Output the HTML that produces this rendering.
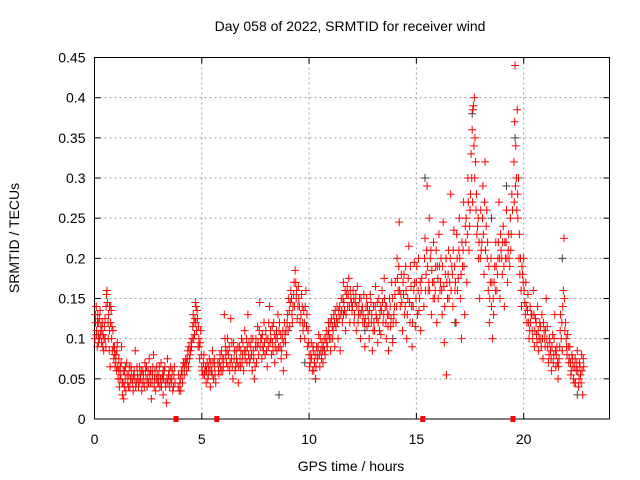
<!DOCTYPE html>
<html><head><meta charset="utf-8"><style>
body{margin:0;background:#fff;}
svg{display:block;font-family:"Liberation Sans",sans-serif;}
</style></head><body>
<svg id="chart" width="640" height="480">
<rect width="640" height="480" fill="#fff"/>
<text x="350" y="31" font-size="14" text-anchor="middle">Day 058 of 2022, SRMTID for receiver wind</text>
<text x="351" y="471" font-size="14" text-anchor="middle">GPS time / hours</text>
<text transform="translate(19,238) rotate(-90)" font-size="14" text-anchor="middle">SRMTID / TECUs</text>
<g id="grid"></g><g id="axes"></g><g id="marks"></g>
</svg>
<script>
const xTicks=[0,5,10,15,20];
const yTicks=[0,0.05,0.1,0.15,0.2,0.25,0.3,0.35,0.4,0.45];
const yLabels=["0","0.05","0.1","0.15","0.2","0.25","0.3","0.35","0.4","0.45"];
const gapTimes=[3.8,5.7,15.3,19.5];
const grayPts=[[0.7,0.14],[3.2,0.06],[9.8,0.07],[10.3,0.05],[11.6,0.13],[15.4,0.3],[16.8,0.12],[17.6,0.38],[18.5,0.25],[19.6,0.35],[19.2,0.29],[21.8,0.2],[22.5,0.03],[12.6,0.11],[8.6,0.03],[13.9,0.1]];
const redPts=[
[0.02,0.1],[0.05,0.12],[0.08,0.14],[0.1,0.11],[0.13,0.09],[0.15,0.13],[0.18,0.105],[0.2,0.12],[0.23,0.1],[0.26,0.135],[0.3,0.115],[0.33,0.095],[0.36,0.12],[0.4,0.105],[0.43,0.085],[0.46,0.115],[0.5,0.1],[0.53,0.09],[0.56,0.155],[0.58,0.16],[0.6,0.145],[0.63,0.12],[0.66,0.13],[0.7,0.11],[0.73,0.065],[0.76,0.14],[0.78,0.135],[0.8,0.1],[0.83,0.085],[0.86,0.11],[0.9,0.075],[0.93,0.09],[0.96,0.065],[1.0,0.08],[1.03,0.06],[1.06,0.095],[1.1,0.05],[1.13,0.075],[1.16,0.04],[1.2,0.065],[1.23,0.055],[1.26,0.09],[1.3,0.03],[1.33,0.045],[1.36,0.025],[1.4,0.06],[1.43,0.05],[1.46,0.035],[1.5,0.07],[1.55,0.045],[1.6,0.055],[1.65,0.04],[1.7,0.065],[1.75,0.05],[1.8,0.035],[1.85,0.06],[1.9,0.085],[1.95,0.045],[2.0,0.055],[2.05,0.04],[2.1,0.065],[2.15,0.05],[2.2,0.035],[2.25,0.06],[2.3,0.045],[2.35,0.07],[2.4,0.05],[2.45,0.04],[2.5,0.06],[2.55,0.075],[2.6,0.045],[2.65,0.025],[2.7,0.055],[2.75,0.08],[2.8,0.05],[2.85,0.035],[2.9,0.065],[2.95,0.045],[3.0,0.055],[3.05,0.04],[3.1,0.07],[3.15,0.05],[3.2,0.03],[3.25,0.06],[3.3,0.045],[3.35,0.02],[3.4,0.075],[3.45,0.055],[3.5,0.04],[3.55,0.065],[3.6,0.05],[3.65,0.035],[3.7,0.055],[3.75,0.045],[3.9,0.04],[3.95,0.035],[4.0,0.05],[4.05,0.06],[4.1,0.045],[4.15,0.07],[4.2,0.065],[4.25,0.075],[4.3,0.06],[4.35,0.085],[4.4,0.09],[4.45,0.08],[4.5,0.095],[4.55,0.1],[4.6,0.13],[4.63,0.12],[4.66,0.105],[4.7,0.145],[4.73,0.14],[4.76,0.11],[4.8,0.125],[4.83,0.09],[4.86,0.1],[4.9,0.075],[4.95,0.11],[5.0,0.065],[5.05,0.055],[5.1,0.08],[5.15,0.06],[5.2,0.045],[5.25,0.07],[5.3,0.055],[5.35,0.075],[5.4,0.04],[5.45,0.06],[5.5,0.085],[5.55,0.05],[5.6,0.065],[5.65,0.045],[5.75,0.07],[5.8,0.055],[5.85,0.08],[5.9,0.06],[5.95,0.075],[6.0,0.065],[6.05,0.13],[6.1,0.09],[6.15,0.07],[6.2,0.1],[6.25,0.08],[6.3,0.06],[6.35,0.125],[6.4,0.095],[6.45,0.05],[6.5,0.075],[6.55,0.06],[6.6,0.085],[6.65,0.07],[6.7,0.045],[6.75,0.09],[6.8,0.065],[6.85,0.1],[6.9,0.08],[6.95,0.06],[7.0,0.11],[7.05,0.085],[7.1,0.07],[7.15,0.13],[7.2,0.095],[7.25,0.075],[7.3,0.1],[7.35,0.06],[7.4,0.085],[7.45,0.05],[7.5,0.09],[7.55,0.07],[7.6,0.115],[7.65,0.08],[7.7,0.145],[7.75,0.1],[7.8,0.075],[7.85,0.09],[7.9,0.12],[7.95,0.08],[8.0,0.1],[8.05,0.065],[8.1,0.09],[8.15,0.14],[8.2,0.11],[8.25,0.08],[8.3,0.095],[8.35,0.12],[8.4,0.07],[8.45,0.1],[8.5,0.085],[8.55,0.13],[8.6,0.11],[8.65,0.09],[8.7,0.075],[8.75,0.1],[8.8,0.06],[8.85,0.12],[8.9,0.095],[8.95,0.08],[9.0,0.13],[9.05,0.15],[9.1,0.115],[9.15,0.16],[9.2,0.13],[9.25,0.14],[9.3,0.17],[9.35,0.185],[9.4,0.15],[9.45,0.125],[9.5,0.165],[9.55,0.14],[9.6,0.1],[9.65,0.155],[9.7,0.12],[9.75,0.135],[9.8,0.1],[9.85,0.16],[9.9,0.13],[9.95,0.11],[10.0,0.08],[10.05,0.07],[10.1,0.095],[10.15,0.06],[10.2,0.085],[10.25,0.07],[10.3,0.05],[10.35,0.09],[10.4,0.075],[10.45,0.105],[10.5,0.065],[10.55,0.085],[10.6,0.095],[10.65,0.07],[10.7,0.1],[10.75,0.08],[10.8,0.11],[10.85,0.09],[10.9,0.12],[10.95,0.1],[11.0,0.085],[11.05,0.125],[11.1,0.1],[11.15,0.13],[11.2,0.09],[11.25,0.115],[11.3,0.14],[11.35,0.1],[11.4,0.125],[11.45,0.085],[11.5,0.15],[11.55,0.12],[11.6,0.17],[11.65,0.135],[11.7,0.11],[11.75,0.155],[11.8,0.14],[11.85,0.175],[11.9,0.12],[11.95,0.15],[12.0,0.135],[12.05,0.16],[12.1,0.12],[12.15,0.145],[12.2,0.11],[12.25,0.165],[12.3,0.13],[12.35,0.15],[12.4,0.1],[12.45,0.135],[12.5,0.12],[12.55,0.155],[12.6,0.09],[12.65,0.14],[12.7,0.115],[12.75,0.13],[12.8,0.1],[12.85,0.155],[12.9,0.12],[12.95,0.085],[13.0,0.14],[13.05,0.11],[13.1,0.165],[13.15,0.125],[13.2,0.095],[13.25,0.15],[13.3,0.13],[13.35,0.105],[13.4,0.16],[13.45,0.12],[13.5,0.175],[13.55,0.14],[13.6,0.1],[13.65,0.13],[13.7,0.085],[13.75,0.15],[13.8,0.115],[13.85,0.17],[13.9,0.095],[13.95,0.13],[14.0,0.155],[14.05,0.12],[14.1,0.2],[14.15,0.16],[14.2,0.245],[14.25,0.14],[14.3,0.18],[14.35,0.11],[14.4,0.155],[14.45,0.13],[14.5,0.19],[14.55,0.1],[14.6,0.15],[14.65,0.215],[14.7,0.12],[14.75,0.165],[14.8,0.09],[14.85,0.14],[14.9,0.195],[14.95,0.115],[15.0,0.17],[15.05,0.13],[15.1,0.2],[15.15,0.15],[15.2,0.11],[15.25,0.175],[15.35,0.14],[15.4,0.225],[15.45,0.18],[15.5,0.29],[15.55,0.16],[15.6,0.25],[15.65,0.2],[15.7,0.13],[15.75,0.17],[15.8,0.22],[15.85,0.15],[15.9,0.19],[15.95,0.12],[16.0,0.175],[16.05,0.23],[16.1,0.16],[16.15,0.2],[16.2,0.13],[16.25,0.245],[16.3,0.095],[16.35,0.18],[16.4,0.055],[16.45,0.15],[16.5,0.21],[16.55,0.17],[16.6,0.28],[16.65,0.19],[16.7,0.14],[16.75,0.235],[16.8,0.16],[16.85,0.12],[16.9,0.2],[16.95,0.175],[17.0,0.25],[17.05,0.15],[17.1,0.1],[17.15,0.19],[17.2,0.27],[17.25,0.13],[17.3,0.22],[17.35,0.17],[17.4,0.3],[17.45,0.21],[17.5,0.26],[17.55,0.33],[17.6,0.36],[17.63,0.385],[17.66,0.39],[17.7,0.4],[17.73,0.35],[17.76,0.32],[17.8,0.28],[17.85,0.24],[17.9,0.2],[17.95,0.15],[18.0,0.26],[18.05,0.22],[18.1,0.29],[18.15,0.18],[18.2,0.32],[18.25,0.24],[18.3,0.2],[18.35,0.16],[18.4,0.12],[18.45,0.17],[18.5,0.14],[18.55,0.1],[18.6,0.13],[18.65,0.19],[18.7,0.22],[18.75,0.16],[18.8,0.2],[18.85,0.27],[18.9,0.15],[18.95,0.21],[19.0,0.18],[19.05,0.24],[19.1,0.14],[19.15,0.2],[19.2,0.26],[19.25,0.17],[19.3,0.23],[19.35,0.19],[19.4,0.21],[19.45,0.28],[19.55,0.32],[19.58,0.37],[19.6,0.44],[19.63,0.34],[19.66,0.3],[19.7,0.385],[19.73,0.25],[19.76,0.3],[19.8,0.23],[19.85,0.2],[19.9,0.14],[19.95,0.18],[20.0,0.2],[20.05,0.145],[20.1,0.17],[20.15,0.12],[20.2,0.155],[20.25,0.1],[20.3,0.14],[20.35,0.13],[20.4,0.11],[20.45,0.16],[20.5,0.09],[20.55,0.125],[20.6,0.105],[20.65,0.14],[20.7,0.085],[20.75,0.12],[20.8,0.1],[20.85,0.13],[20.9,0.075],[20.95,0.11],[21.0,0.09],[21.05,0.15],[21.1,0.115],[21.15,0.07],[21.2,0.1],[21.25,0.085],[21.3,0.06],[21.35,0.105],[21.4,0.08],[21.45,0.13],[21.5,0.065],[21.55,0.09],[21.6,0.05],[21.65,0.075],[21.7,0.11],[21.75,0.1],[21.8,0.085],[21.85,0.16],[21.88,0.225],[21.9,0.15],[21.95,0.12],[22.0,0.09],[22.05,0.105],[22.1,0.07],[22.15,0.09],[22.2,0.055],[22.25,0.08],[22.3,0.065],[22.35,0.045],[22.4,0.075],[22.45,0.06],[22.5,0.085],[22.55,0.04],[22.6,0.07],[22.65,0.055],[22.7,0.08],[22.75,0.03],[22.8,0.065]
];
const redPts2=[
[0.04,0.13],[0.09,0.105],[0.14,0.12],[0.19,0.095],[0.24,0.125],[0.29,0.105],[0.34,0.11],[0.39,0.09],[0.44,0.1],[0.49,0.125],[0.54,0.14],[0.64,0.1],[0.69,0.085],[0.74,0.12],[0.81,0.115],[0.88,0.09],[0.94,0.08],[0.99,0.07],[1.04,0.085],[1.09,0.065],[1.14,0.06],[1.19,0.05],[1.24,0.07],[1.29,0.045],[1.34,0.06],[1.39,0.04],[1.44,0.065],[1.52,0.055],[1.58,0.04],[1.62,0.065],[1.68,0.05],[1.72,0.06],[1.78,0.045],[1.82,0.055],[1.88,0.05],[1.92,0.04],[1.98,0.065],[2.02,0.05],[2.08,0.045],[2.12,0.055],[2.18,0.06],[2.22,0.045],[2.28,0.055],[2.32,0.04],[2.38,0.06],[2.42,0.065],[2.48,0.05],[2.52,0.045],[2.58,0.055],[2.62,0.06],[2.68,0.045],[2.72,0.065],[2.78,0.04],[2.82,0.06],[2.88,0.05],[2.92,0.055],[2.98,0.045],[3.02,0.065],[3.08,0.05],[3.12,0.04],[3.18,0.055],[3.22,0.05],[3.28,0.065],[3.32,0.04],[3.38,0.05],[3.42,0.045],[3.48,0.06],[3.52,0.05],[3.58,0.045],[3.62,0.06],[3.68,0.04],[3.72,0.065],[3.92,0.055],[3.98,0.045],[4.02,0.035],[4.08,0.055],[4.12,0.065],[4.18,0.055],[4.22,0.07],[4.28,0.07],[4.32,0.075],[4.38,0.065],[4.42,0.075],[4.48,0.085],[4.52,0.09],[4.58,0.115],[4.62,0.1],[4.68,0.125],[4.72,0.12],[4.78,0.135],[4.84,0.115],[4.88,0.09],[4.92,0.095],[4.98,0.08],[5.02,0.06],[5.08,0.07],[5.12,0.055],[5.18,0.065],[5.22,0.06],[5.28,0.05],[5.32,0.065],[5.38,0.06],[5.42,0.07],[5.48,0.055],[5.52,0.07],[5.58,0.075],[5.62,0.055],[5.78,0.06],[5.82,0.07],[5.88,0.065],[5.92,0.085],[5.98,0.06],[6.02,0.075],[6.08,0.1],[6.12,0.08],[6.18,0.085],[6.22,0.065],[6.28,0.09],[6.32,0.07],[6.38,0.075],[6.42,0.065],[6.48,0.095],[6.52,0.085],[6.58,0.065],[6.62,0.075],[6.68,0.09],[6.72,0.065],[6.78,0.075],[6.82,0.085],[6.88,0.07],[6.92,0.095],[6.98,0.085],[7.02,0.075],[7.08,0.1],[7.12,0.09],[7.18,0.08],[7.22,0.07],[7.28,0.09],[7.32,0.08],[7.38,0.1],[7.42,0.075],[7.48,0.065],[7.52,0.1],[7.58,0.09],[7.62,0.095],[7.68,0.11],[7.72,0.09],[7.78,0.1],[7.82,0.105],[7.88,0.085],[7.92,0.095],[7.98,0.11],[8.02,0.085],[8.08,0.1],[8.12,0.12],[8.18,0.095],[8.22,0.1],[8.28,0.115],[8.32,0.085],[8.38,0.105],[8.42,0.09],[8.48,0.11],[8.52,0.1],[8.58,0.09],[8.62,0.12],[8.68,0.105],[8.72,0.085],[8.78,0.11],[8.82,0.095],[8.88,0.105],[8.92,0.11],[8.98,0.12],[9.02,0.11],[9.08,0.135],[9.12,0.145],[9.18,0.15],[9.22,0.12],[9.28,0.155],[9.32,0.14],[9.38,0.17],[9.42,0.16],[9.48,0.14],[9.52,0.15],[9.58,0.12],[9.62,0.13],[9.68,0.14],[9.72,0.11],[9.78,0.12],[9.82,0.14],[9.88,0.115],[9.92,0.09],[9.98,0.095],[10.02,0.065],[10.08,0.08],[10.12,0.075],[10.18,0.09],[10.22,0.06],[10.28,0.08],[10.32,0.065],[10.38,0.08],[10.42,0.09],[10.48,0.08],[10.52,0.1],[10.58,0.075],[10.62,0.085],[10.68,0.09],[10.72,0.085],[10.78,0.1],[10.82,0.095],[10.88,0.105],[10.92,0.11],[10.98,0.12],[11.02,0.1],[11.08,0.115],[11.12,0.11],[11.18,0.12],[11.22,0.135],[11.28,0.125],[11.32,0.12],[11.38,0.135],[11.42,0.14],[11.48,0.13],[11.52,0.135],[11.58,0.15],[11.62,0.145],[11.68,0.16],[11.72,0.13],[11.78,0.165],[11.82,0.155],[11.88,0.14],[11.92,0.16],[11.98,0.145],[12.02,0.14],[12.08,0.15],[12.12,0.13],[12.18,0.155],[12.22,0.14],[12.28,0.12],[12.32,0.14],[12.38,0.13],[12.42,0.15],[12.48,0.14],[12.52,0.13],[12.58,0.12],[12.62,0.125],[12.68,0.15],[12.72,0.14],[12.78,0.12],[12.82,0.135],[12.88,0.145],[12.92,0.13],[12.98,0.11],[13.02,0.12],[13.08,0.14],[13.12,0.13],[13.18,0.145],[13.22,0.12],[13.28,0.11],[13.32,0.14],[13.38,0.135],[13.42,0.145],[13.48,0.13],[13.52,0.15],[13.58,0.12],[13.62,0.14],[13.68,0.115],[13.72,0.13],[13.78,0.14],[13.82,0.125],[13.88,0.15],[13.92,0.12],[13.98,0.14],[14.02,0.17],[14.08,0.14],[14.12,0.175],[14.18,0.19],[14.22,0.16],[14.28,0.155],[14.32,0.145],[14.38,0.17],[14.42,0.18],[14.48,0.14],[14.52,0.16],[14.58,0.13],[14.62,0.175],[14.68,0.145],[14.72,0.19],[14.78,0.14],[14.82,0.12],[14.88,0.16],[14.92,0.17],[14.98,0.15],[15.02,0.19],[15.08,0.16],[15.12,0.135],[15.18,0.17],[15.22,0.16],[15.38,0.2],[15.42,0.16],[15.48,0.21],[15.52,0.19],[15.58,0.17],[15.62,0.16],[15.68,0.21],[15.72,0.185],[15.78,0.15],[15.82,0.17],[15.88,0.16],[15.92,0.21],[15.98,0.19],[16.02,0.15],[16.08,0.19],[16.12,0.17],[16.18,0.16],[16.22,0.19],[16.28,0.165],[16.32,0.14],[16.38,0.2],[16.42,0.17],[16.48,0.18],[16.52,0.15],[16.58,0.2],[16.62,0.16],[16.68,0.18],[16.72,0.21],[16.78,0.19],[16.82,0.17],[16.88,0.23],[16.92,0.16],[16.98,0.21],[17.02,0.2],[17.08,0.18],[17.12,0.22],[17.18,0.21],[17.22,0.19],[17.28,0.24],[17.32,0.25],[17.38,0.23],[17.42,0.27],[17.48,0.24],[17.52,0.28],[17.58,0.3],[17.62,0.27],[17.68,0.34],[17.72,0.3],[17.78,0.26],[17.82,0.23],[17.88,0.25],[17.92,0.22],[17.98,0.2],[18.02,0.21],[18.08,0.25],[18.12,0.23],[18.18,0.27],[18.22,0.21],[18.28,0.26],[18.32,0.22],[18.38,0.19],[18.42,0.15],[18.48,0.2],[18.52,0.17],[18.58,0.15],[18.62,0.17],[18.68,0.16],[18.72,0.19],[18.78,0.18],[18.82,0.22],[18.88,0.2],[18.92,0.23],[18.98,0.2],[19.02,0.22],[19.08,0.19],[19.12,0.22],[19.18,0.22],[19.22,0.2],[19.28,0.21],[19.32,0.2],[19.38,0.25],[19.42,0.23],[19.48,0.26],[19.56,0.27],[19.62,0.29],[19.68,0.26],[19.72,0.28],[19.78,0.2],[19.82,0.18],[19.88,0.16],[19.92,0.19],[19.98,0.17],[20.02,0.16],[20.08,0.13],[20.12,0.14],[20.18,0.135],[20.22,0.12],[20.28,0.11],[20.32,0.12],[20.38,0.13],[20.42,0.1],[20.48,0.13],[20.52,0.11],[20.58,0.12],[20.62,0.095],[20.68,0.11],[20.72,0.1],[20.78,0.115],[20.82,0.09],[20.88,0.1],[20.92,0.12],[20.98,0.1],[21.02,0.11],[21.08,0.1],[21.12,0.09],[21.18,0.08],[21.22,0.095],[21.28,0.075],[21.32,0.09],[21.38,0.07],[21.42,0.1],[21.48,0.085],[21.52,0.08],[21.58,0.07],[21.62,0.065],[21.68,0.09],[21.72,0.13],[21.78,0.12],[21.82,0.14],[21.92,0.11],[21.98,0.1],[22.02,0.08],[22.08,0.09],[22.12,0.075],[22.18,0.07],[22.22,0.06],[22.28,0.075],[22.32,0.05],[22.38,0.065],[22.42,0.045],[22.48,0.07],[22.52,0.06],[22.58,0.05],[22.62,0.065],[22.68,0.045],[22.72,0.06],[22.78,0.075]
];
const svgNS="http://www.w3.org/2000/svg";
const L=94.5,R=609.5,T=57.5,B=419,XMAX=24,YMAX=0.45;
function xs(v){return L+(R-L)*v/XMAX;}
function ys(v){return B-(B-T)*v/YMAX;}
function mk(tag,attrs,parent){const e=document.createElementNS(svgNS,tag);for(const k in attrs)e.setAttribute(k,attrs[k]);parent.appendChild(e);return e;}
const grid=document.getElementById('grid'),axes=document.getElementById('axes'),marks=document.getElementById('marks');
yTicks.forEach((v,i)=>{
  const y=ys(v);
  if(i>0&&i<yTicks.length-1){const g=mk('line',{x1:L,x2:R,y1:y,y2:y,stroke:'#a0a0a0','stroke-dasharray':'2,3'},grid);
  
  }
  mk('line',{x1:L,x2:L+6,y1:y,y2:y,stroke:'#000'},axes);
  mk('line',{x1:R,x2:R-6,y1:y,y2:y,stroke:'#000'},axes);
  const t=mk('text',{x:L-9,y:y+5,'font-size':14,'text-anchor':'end'},axes);t.textContent=yLabels[i];
  
  
});
xTicks.forEach(v=>{
  const x=xs(v);
  if(v>0){const g=mk('line',{x1:x,x2:x,y1:T,y2:B,stroke:'#a0a0a0','stroke-dasharray':'2,3'},grid);
  
  }
  mk('line',{x1:x,x2:x,y1:B,y2:B-6,stroke:'#000'},axes);
  mk('line',{x1:x,x2:x,y1:T,y2:T+6,stroke:'#000'},axes);
  const t=mk('text',{x:x,y:B+25,'font-size':14,'text-anchor':'middle'},axes);t.textContent=String(v);
  
  
});
const box=mk('rect',{x:L,y:T,width:R-L,height:B-T,fill:'none',stroke:'#000'},axes);


function plus(p,color,name){
  const x=xs(p[0]),y=ys(p[1]);
  const e=mk('path',{d:`M${x-4},${y}h8M${x},${y-4}v8`,stroke:color,'stroke-width':1,fill:'none'},marks);
  
  
}
grayPts.forEach(p=>plus(p,'#404040','gray-point'));
redPts.forEach(p=>plus(p,'#ff0000','srmtid-point'));
redPts2.forEach(p=>plus(p,'#ff0000','srmtid-point'));
gapTimes.forEach(t=>{
  const r=mk('rect',{x:xs(t)-2.5,y:B-3,width:5,height:6,fill:'#ff0000'},marks);
  
  
});
</script>
</body></html>
